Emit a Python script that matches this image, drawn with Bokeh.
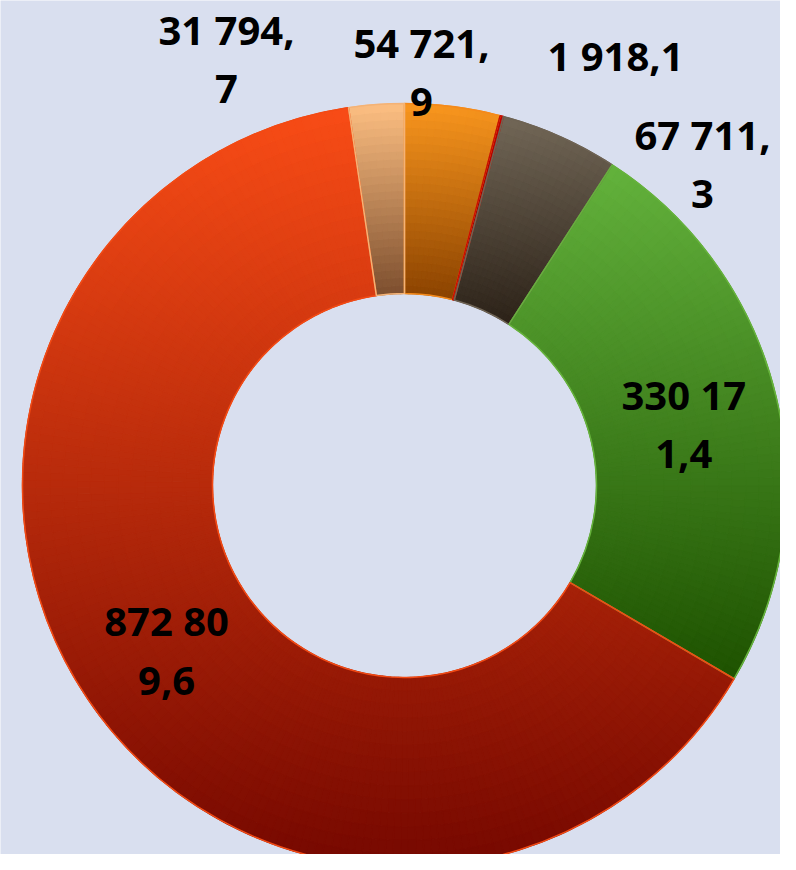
import math
from bokeh.plotting import figure
from bokeh.models import Range1d, ColumnDataSource
from bokeh.core.properties import value
from bokeh.embed import file_html
from bokeh.resources import INLINE

# ---- data ----
categories = ["A", "B", "C", "D", "E", "F"]
values = [54721.9, 1918.1, 67711.3, 330171.4, 872809.6, 31794.7]
labels = ["54 721,\n9", "1 918,1", "67 711,\n3", "330 17\n1,4", "872 80\n9,6", "31 794,\n7"]

# ---- style ----
grad_top = ["#F9961E", "#C40000", "#726757", "#63B23C", "#F84C16", "#FDBF82"]
grad_bot = ["#8A4200", "#7A0000", "#2C2218", "#1E5200", "#760800", "#7C4E2E"]
edges = ["#F58A1A", "#C81000", "#6E6354", "#66B23C", "#F24A14", "#F4B275"]

W, H = 780, 854
cx, cy = 404, 369
R_out, R_in = 382, 192


def hex2rgb(h):
    h = h.lstrip("#")
    return tuple(int(h[i:i + 2], 16) for i in (0, 2, 4))


def lerp(c0, c1, t):
    a, b = hex2rgb(c0), hex2rgb(c1)
    t = min(max(t, 0.0), 1.0)
    return "#%02x%02x%02x" % tuple(int(round(a[i] + (b[i] - a[i]) * t)) for i in range(3))


total = sum(values)
starts, ends, mids = [], [], []
cum = 0.0
for v in values:
    a0 = math.pi / 2 - 2 * math.pi * cum / total
    cum += v
    a1 = math.pi / 2 - 2 * math.pi * cum / total
    starts.append(a0)
    ends.append(a1)
    mids.append((a0 + a1) / 2)

p = figure(width=W, height=H, output_backend="svg", toolbar_location=None,
           x_range=Range1d(0, W), y_range=Range1d(0, H), min_border=0)
p.axis.visible = False
p.grid.visible = False
p.outline_line_color = None
p.background_fill_color = "#D9DFEF"
p.border_fill_color = "#D9DFEF"

# vertical gradient fill: each slice painted in small pieces shaded by height
gs, ge, gri, gro, gc = [], [], [], [], []
for i in range(len(values)):
    a0, a1 = starts[i], ends[i]
    span = a0 - a1
    ys = []
    for k in range(41):
        a = a0 - span * k / 40
        ys += [cy + R_out * math.sin(a), cy + R_in * math.sin(a)]
    ytop, ybot = max(ys), min(ys)
    n_a = max(1, int(math.degrees(span) / 1.2))
    n_r = 24 if math.degrees(span) < 40 else 14
    for k in range(n_a):
        s = a0 - span * k / n_a
        e = a0 - span * (k + 1) / n_a
        am = (s + e) / 2
        for j in range(n_r):
            ri = R_in + (R_out - R_in) * j / n_r
            ro = R_in + (R_out - R_in) * (j + 1) / n_r
            ym = cy + (ri + ro) / 2 * math.sin(am)
            t = (ytop - ym) / (ytop - ybot) if ytop > ybot else 0.5
            gs.append(s); ge.append(e); gri.append(ri); gro.append(ro)
            gc.append(lerp(grad_top[i], grad_bot[i], t))

gsrc = ColumnDataSource(dict(start=gs, end=ge, ri=gri, ro=gro, color=gc))
p.annular_wedge(x=cx, y=cy, inner_radius="ri", outer_radius="ro",
                start_angle="start", end_angle="end", direction="clock",
                fill_color="color", line_color="color", line_width=1.2, source=gsrc)

# slice outlines
src = ColumnDataSource(dict(cat=categories, val=values, start=starts, end=ends, edge=edges))
p.annular_wedge(x=cx, y=cy, inner_radius=R_in, outer_radius=R_out,
                start_angle="start", end_angle="end", direction="clock",
                fill_color=None, line_color="edge", line_width=1.5, source=src)

# label positions: mid-ring for big slices, placed outside for small ones
mid_r = (R_in + R_out) / 2
outside = {0: (421, 783), 1: (615, 799), 2: (702, 691), 5: (226, 796)}
lx, ly = [], []
for i, m in enumerate(mids):
    if i in outside:
        lx.append(outside[i][0]); ly.append(outside[i][1])
    else:
        lx.append(cx + mid_r * math.cos(m)); ly.append(cy + mid_r * math.sin(m) - 4)

p.text(x=lx, y=ly, text=labels, text_align="center", text_baseline="middle",
       text_font_size="40px", text_font_style="bold", text_color="#000000",
       text_font=value("Open Sans"), text_line_height=1.06)

open("out.html", "w").write(file_html(p, INLINE))
